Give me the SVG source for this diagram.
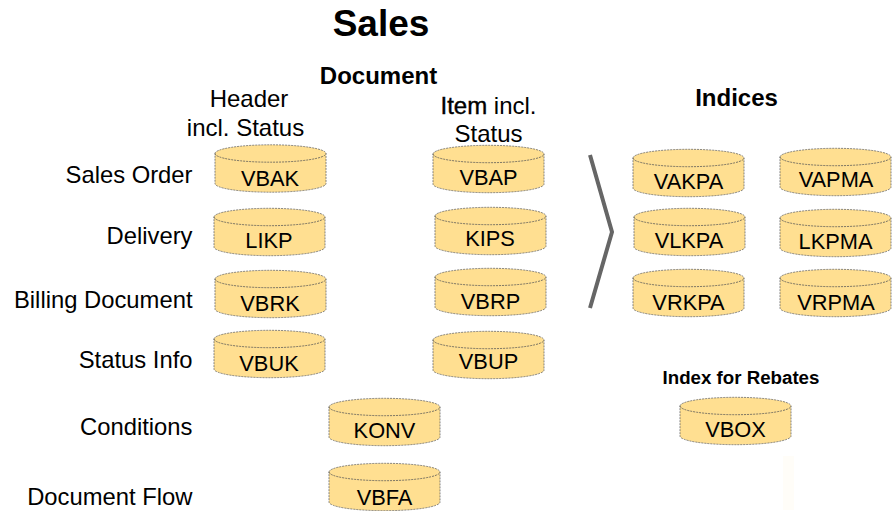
<svg xmlns="http://www.w3.org/2000/svg" width="893" height="511" viewBox="0 0 893 511">
<style>
text{font-family:"Liberation Sans",Arial,sans-serif;fill:#000}
.c{text-anchor:middle}
.r{text-anchor:end;font-size:23.800px}
.h{font-size:24px}
.b{font-weight:bold}
.n{text-anchor:middle;font-size:21.8px}
.body{fill:#ffdf91;stroke:#666;stroke-width:.8;stroke-dasharray:2 1}
.rim{fill:none;stroke:#555;stroke-width:.8;stroke-dasharray:2 1}
.heavy{stroke:#000;stroke-width:.4}
</style>
<defs>
<g id="cyl">
<path class="body" d="M0 9A55.5 8.700 0 0 1 111 9V39A55.5 8.700 0 0 1 0 39Z"/>
<path class="rim" d="M0 9A55.5 8.700 0 0 0 111 9"/>
</g>
</defs>
<rect width="893" height="511" fill="#fff"/>
<path d="M783 456h11v54h-11z" fill="#fffdf8"/>
<g id="titles">
<text class="c b" x="381" y="36" font-size="37">Sales</text>
<text class="c b" x="378.500" y="84" font-size="24">Document</text>
<text class="c h" x="249" y="107">Header</text>
<text class="c h" x="245.500" y="136">incl. Status</text>
<text class="c h" x="488.500" y="114"><tspan class="heavy">Item</tspan> incl.</text>
<text class="c h" x="488.500" y="142">Status</text>
<text class="c b" x="736.500" y="106" font-size="24">Indices</text>
<text class="c b" x="741" y="384" font-size="18.700">Index for Rebates</text>
</g>
<g id="row-labels">
<text class="r" x="192.500" y="183">Sales Order</text>
<text class="r" x="192.500" y="244">Delivery</text>
<text class="r" x="192.500" y="308">Billing Document</text>
<text class="r" x="192.500" y="368">Status Info</text>
<text class="r" x="192.500" y="435">Conditions</text>
<text class="r" x="192.500" y="505">Document Flow</text>
</g>
<g id="connectors">
<path d="M590 155L612 232L590 308" fill="none" stroke="#666" stroke-width="4"/>
</g>
<g id="VBAK" transform="translate(215 144.500)"><use href="#cyl"/><text class="n" x="55" y="41.500">VBAK</text></g>
<g id="LIKP" transform="translate(214 208)"><use href="#cyl"/><text class="n" x="55" y="40">LIKP</text></g>
<g id="VBRK" transform="translate(215 270)"><use href="#cyl"/><text class="n" x="55" y="41">VBRK</text></g>
<g id="VBUK" transform="translate(214 330)"><use href="#cyl"/><text class="n" x="55" y="41">VBUK</text></g>
<g id="VBAP" transform="translate(433 145)"><use href="#cyl"/><text class="n" x="55.500" y="40">VBAP</text></g>
<g id="KIPS" transform="translate(435 207)"><use href="#cyl"/><text class="n" x="55" y="39">KIPS</text></g>
<g id="VBRP" transform="translate(435 268)"><use href="#cyl"/><text class="n" x="55.500" y="41">VBRP</text></g>
<g id="VBUP" transform="translate(433 331)"><use href="#cyl"/><text class="n" x="55.500" y="38">VBUP</text></g>
<g id="VAKPA" transform="translate(633 149)"><use href="#cyl"/><text class="n" x="55.500" y="40">VAKPA</text></g>
<g id="VLKPA" transform="translate(634 208)"><use href="#cyl"/><text class="n" x="55" y="40">VLKPA</text></g>
<g id="VRKPA" transform="translate(633 269)"><use href="#cyl"/><text class="n" x="55.500" y="41">VRKPA</text></g>
<g id="VAPMA" transform="translate(780 148)"><use href="#cyl"/><text class="n" x="56" y="39">VAPMA</text></g>
<g id="LKPMA" transform="translate(780 209)"><use href="#cyl"/><text class="n" x="55.500" y="40">LKPMA</text></g>
<g id="VRPMA" transform="translate(780 269)"><use href="#cyl"/><text class="n" x="56" y="41">VRPMA</text></g>
<g id="KONV" transform="translate(329 398)"><use href="#cyl"/><text class="n" x="55.500" y="40">KONV</text></g>
<g id="VBFA" transform="translate(329 463)"><use href="#cyl"/><text class="n" x="55.500" y="42">VBFA</text></g>
<g id="VBOX" transform="translate(680 397)"><use href="#cyl"/><text class="n" x="55.500" y="40">VBOX</text></g>
</svg>
